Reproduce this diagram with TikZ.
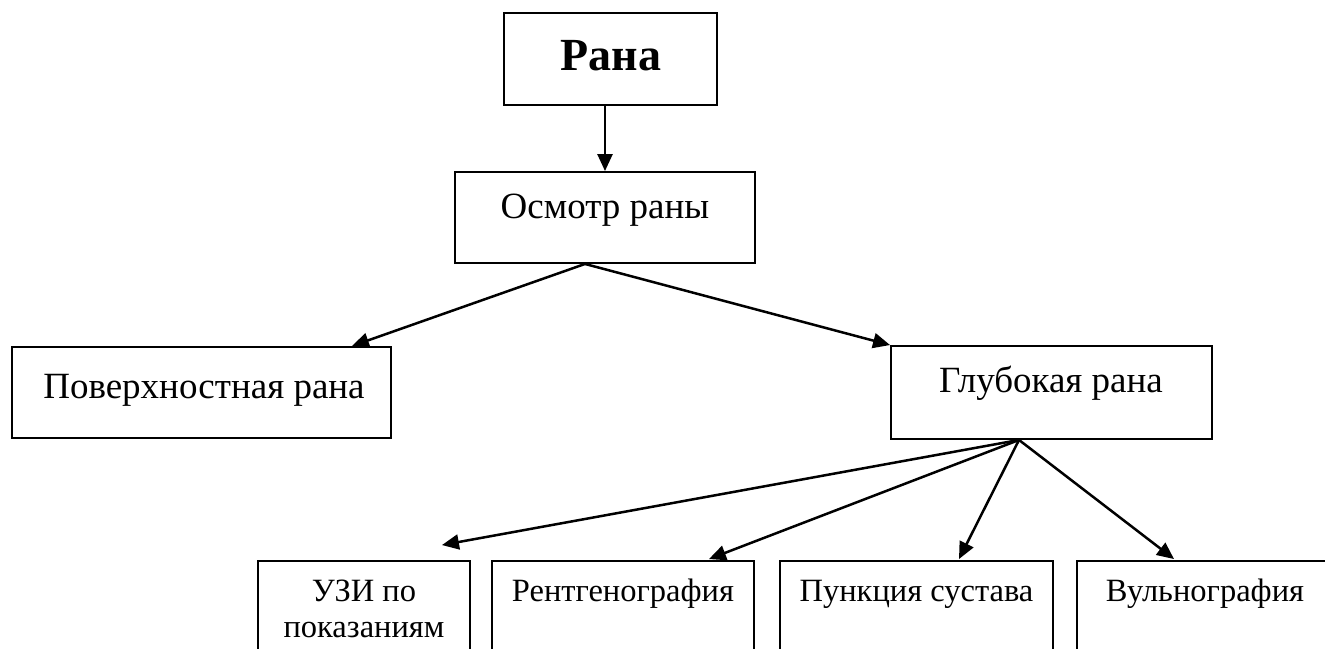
\documentclass[tikz,border=0pt]{standalone}
\usepackage{fontspec}
\setmainfont{Liberation Serif}
\usetikzlibrary{arrows.meta,calc}
\tikzset{
  box/.style={draw=black, line width=1.9pt, fill=none, inner sep=0pt, rectangle},
  arr/.style={draw=black, line width=2.5pt, -{Triangle[length=17pt,width=15pt]}},
  txt/.style={inner sep=0pt, anchor=base, align=center},
}
\begin{document}
\begin{tikzpicture}[x=1pt,y=-1pt]
\useasboundingbox (0,0) rectangle (1325,648);
\clip (0,0) rectangle (1325,648);
% boxes
\node[box, minimum width=213pt, minimum height=92pt] (rana) at (610.5,59) {};
\node[box, minimum width=300pt, minimum height=91pt] (osm) at (605,217.5) {};
\node[box, minimum width=379pt, minimum height=91pt] (pov) at (201.5,392.5) {};
\node[box, minimum width=321pt, minimum height=93pt] (glub) at (1051.5,392.5) {};
\node[box, minimum width=212pt, minimum height=110pt] (uzi) at (364,616) {};
\node[box, minimum width=262pt, minimum height=110pt] (rent) at (623,616) {};
\node[box, minimum width=273pt, minimum height=110pt] (punk) at (916.5,616) {};
\node[box, minimum width=256pt, minimum height=110pt] (vuln) at (1205,616) {};
% texts
\node[txt, font=\fontsize{46}{52}\selectfont\bfseries] (tr) at (611,70) {Рана};
\node[txt, font=\fontsize{37}{42}\selectfont] (to) at (605,218) {Осмотр раны};
\node[txt, font=\fontsize{37}{42}\selectfont] (tp) at (204,398) {Поверхностная рана};
\node[txt, font=\fontsize{37}{42}\selectfont] (tg) at (1051,392) {Глубокая рана};
\node[txt, font=\fontsize{32.5}{36}\selectfont] (tu) at (364,637) {УЗИ по\\показаниям};
\node[txt, font=\fontsize{32.5}{36}\selectfont] (trn) at (623,601) {Рентгенография};
\node[txt, font=\fontsize{32.5}{36}\selectfont] (tpk) at (916.5,601) {Пункция сустава};
\node[txt, font=\fontsize{32.5}{36}\selectfont] (tv) at (1205,601) {Вульнография};
% connectors
\coordinate (osmout) at ($(osm.south)+(-20,0)$);
\coordinate (glout) at ($(glub.south)+(-32.5,0)$);
\coordinate (uziin) at ($(uzi.north east)+(-29,-15)$);
\draw[arr] (rana.south -| osm.north) -- (osm.north);
\draw[arr] (osmout) -- ($(pov.north east)+(-40,0)$);
\draw[arr] (osmout) -- (glub.north west);
\draw[arr] (glout) -- (uziin);
\draw[arr] (glout) -- ($(rent.north east)+(-46,-1)$);
\draw[arr] (glout) -- ($(punk.north)+(42.5,-1)$);
\draw[arr] (glout) -- ($(vuln.north west)+(98,-1)$);
\end{tikzpicture}
\end{document}
